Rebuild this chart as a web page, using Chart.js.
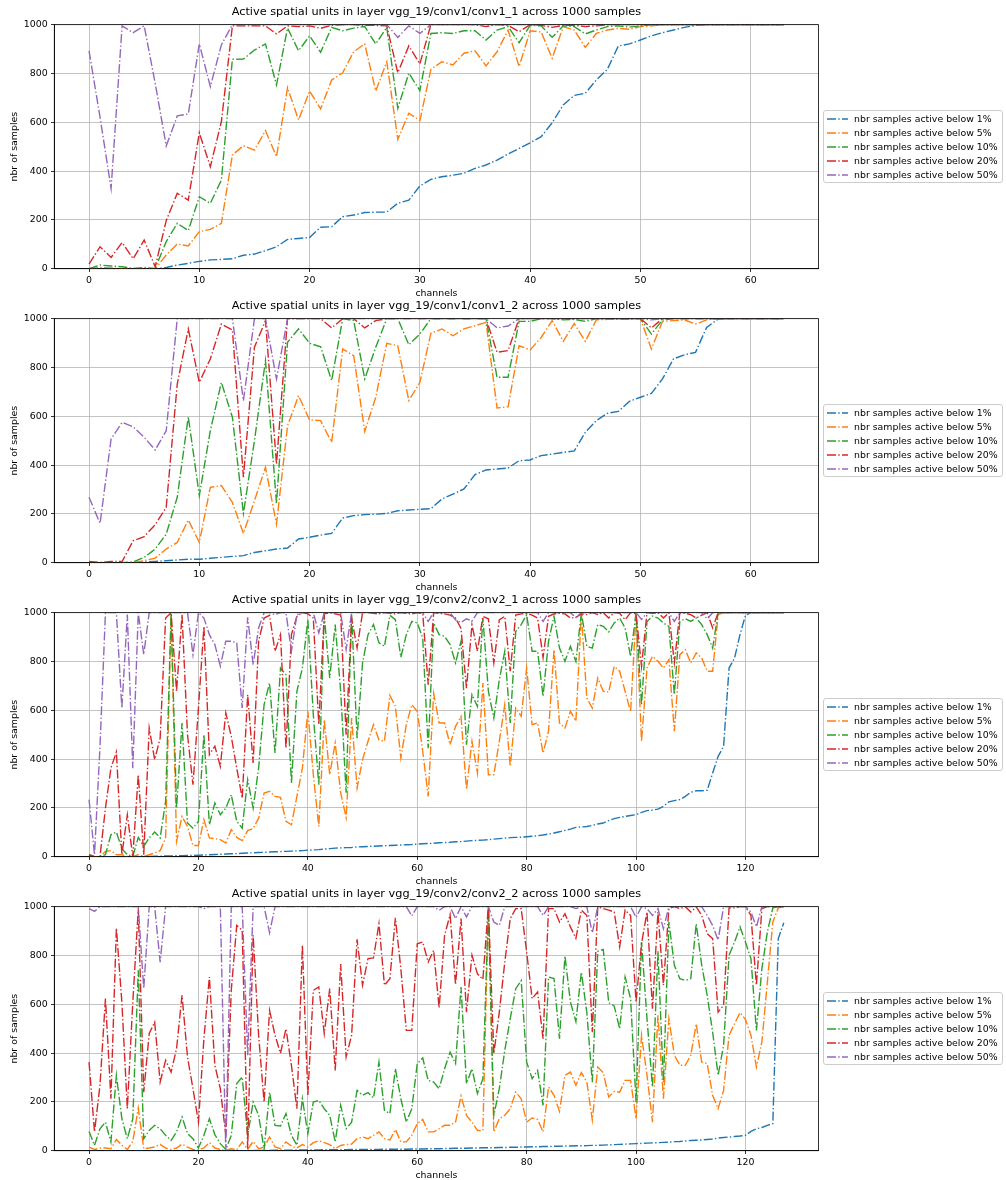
<!DOCTYPE html>
<html>
<head>
<meta charset="utf-8">
<script src="https://cdn.jsdelivr.net/npm/chart.js@4.4.0/dist/chart.umd.min.js"></script>
<style>
  body { margin: 0; background: #fff; width: 1006px; height: 1180px; overflow: hidden; position: relative; font-family: "DejaVu Sans", sans-serif; }
  canvas { position: absolute; left: 0; }
  .legend { position: absolute; left: 823px; width: 180px; height: 73px; box-sizing: border-box; border: 1px solid #cccccc; border-radius: 3px; background: rgba(255,255,255,0.8); font-size: 9.4px; color: #000; }
  .legend .row { position: absolute; left: 0; height: 14px; line-height: 14px; white-space: nowrap; }
  .legend svg { position: absolute; left: 3px; top: 4px; }
  .legend span { position: absolute; left: 30px; top: 0; }
</style>
</head>
<body>
<canvas id="chart1" width="1006" height="300" style="top:0px"></canvas>
<canvas id="chart2" width="1006" height="300" style="top:294px"></canvas>
<canvas id="chart3" width="1006" height="300" style="top:588px"></canvas>
<canvas id="chart4" width="1006" height="300" style="top:882px"></canvas>
<div id="legend1" class="legend" style="top:110px"></div>
<div id="legend2" class="legend" style="top:404px"></div>
<div id="legend3" class="legend" style="top:698px"></div>
<div id="legend4" class="legend" style="top:992px"></div>
<script>
const seriesNames = ['nbr samples active below 1%', 'nbr samples active below 5%', 'nbr samples active below 10%', 'nbr samples active below 20%', 'nbr samples active below 50%'];
const seriesColors = ['#1f77b4', '#ff7f0e', '#2ca02c', '#d62728', '#9467bd'];
const layers = ['vgg_19/conv1/conv1_1', 'vgg_19/conv1/conv1_2', 'vgg_19/conv2/conv2_1', 'vgg_19/conv2/conv2_2'];
const nbrSamples = 1000;

const channels64 = [...Array(64).keys()];
const channels128 = [...Array(128).keys()];
const xTicks64 = [0, 10, 20, 30, 40, 50, 60];
const xTicks128 = [0, 20, 40, 60, 80, 100, 120];
const yTicks = [0, 200, 400, 600, 800, 1000];

// conv1_1 (64 canais)
const conv1_1_below1 = [0,0,0,0,0,0,0,5,15,22,30,36,38,41,55,60,74,90,120,124,128,170,172,213,220,230,232,232,268,281,339,366,377,383,391,411,425,445,470,493,516,541,598,671,710,719,773,817,913,921,937,954,967,978,989,997,1000,1000,1000,1000,1000,1000,1000,1000];
const conv1_1_below5 = [0,5,3,0,0,0,0,56,101,93,152,161,186,466,504,486,566,459,742,609,728,655,773,803,889,921,728,848,530,637,607,817,848,835,883,893,831,889,978,828,975,970,862,992,978,907,964,978,985,981,992,995,1000,1000,1000,1000,1000,1000,1000,1000,1000,1000,1000,1000];
const conv1_1_below10 = [0,15,11,8,1,5,1,111,186,156,295,268,363,858,859,896,921,753,986,893,954,887,989,975,986,992,921,989,657,801,730,964,967,964,975,975,937,978,992,926,997,995,948,995,992,962,978,992,995,990,995,1000,1000,1000,1000,1000,1000,1000,1000,1000,1000,1000,1000,1000];
const conv1_1_below20 = [19,90,46,107,41,117,8,197,309,281,557,418,602,995,995,995,995,962,995,992,995,985,997,1000,1000,997,997,995,803,913,839,1000,1000,1000,1000,1000,992,1000,997,971,1000,997,989,997,997,992,995,1000,1000,1000,1000,1000,1000,1000,1000,1000,1000,1000,1000,1000,1000,1000,1000,1000];
const conv1_1_below50 = [893,620,329,995,967,995,760,503,626,634,921,746,917,1000,1000,1000,1000,1000,1000,1000,1000,1000,1000,1000,1000,1000,1000,1000,948,995,964,1000,1000,1000,1000,1000,1000,1000,1000,1000,1000,1000,1000,1000,1000,1000,1000,1000,1000,1000,1000,1000,1000,1000,1000,1000,1000,1000,1000,1000,1000,1000,1000,1000];

// conv1_2 (64 canais)
const conv1_2_below1 = [0,0,0,0,0,3,5,8,11,14,14,18,22,26,29,42,49,56,60,97,104,113,120,183,193,197,199,202,213,216,219,221,261,281,302,361,380,384,388,418,421,439,445,452,458,534,582,612,620,661,678,694,753,835,852,862,964,997,1000,1000,1000,1000,1000,1000];
const conv1_2_below5 = [0,0,0,0,0,8,19,56,83,175,83,309,316,247,120,254,391,158,561,684,585,582,493,876,848,538,678,899,889,664,739,940,958,930,958,971,985,634,639,889,872,923,992,907,980,907,995,997,997,997,1000,876,989,992,995,978,995,1000,1000,1000,1000,1000,1000,1000];
const conv1_2_below10 = [0,0,0,0,3,22,56,117,268,598,275,541,739,596,202,500,828,243,903,958,899,885,746,1000,992,753,883,1000,1000,893,937,1000,1000,1000,1000,1000,1000,760,760,989,989,1000,1000,995,997,989,1000,1000,1000,1000,1000,937,995,1000,1000,1000,1000,1000,1000,1000,1000,1000,1000,1000];
const conv1_2_below20 = [5,1,5,5,90,107,156,227,732,958,739,835,978,954,350,883,992,404,1000,1000,1000,1000,962,1000,1000,962,992,1000,1000,1000,1000,1000,1000,1000,1000,1000,1000,862,869,1000,1000,1000,1000,1000,1000,1000,1000,1000,1000,1000,1000,962,1000,1000,1000,1000,1000,1000,1000,1000,1000,1000,1000,1000];
const conv1_2_below50 = [268,161,507,575,557,514,462,541,1000,1000,1000,1000,1000,1000,664,1000,1000,753,1000,1000,1000,1000,1000,1000,1000,1000,1000,1000,1000,1000,1000,1000,1000,1000,1000,1000,1000,962,970,1000,1000,1000,1000,1000,1000,1000,1000,1000,1000,1000,1000,995,1000,1000,1000,1000,1000,1000,1000,1000,1000,1000,1000,1000];

// conv2_1 (128 canais)
const conv2_1_below1 = [
  0,0,0,0,0,0,0,0,0,0, 1,1,2,2,3,3,4,4,5,5, 6,7,8,9,10,11,12,13,14,15, 16,17,18,19,20,21,22,23,24,25,
  27,28,29,31,33,35,36,37,38,40, 41,42,43,44,45,46,47,48,49,50, 52,53,54,55,57,58,59,61,62,64, 66,67,68,70,72,74,76,78,79,80,
  82,84,86,89,93,97,102,108,113,120, 122,124,128,134,138,148,156,161,165,169, 172,182,189,191,195,206,225,230,234,247,
  264,270,270,272,343,411,452,773,814,910, 989,1000,1000,1000,1000,1000,1000,1000];
const conv2_1_below5 = [
  3,0,0,22,25,8,8,1,1,8, 1,8,15,25,77,995,63,165,124,46, 46,152,77,74,70,56,111,79,66,107, 115,158,261,268,247,243,145,131,247,363,
  596,336,124,561,336,466,261,161,568,281, 398,473,541,479,473,661,616,404,541,623, 596,432,247,669,548,548,459,534,575,275,
  473,343,712,336,336,473,623,370,609,575, 773,541,548,425,514,848,548,527,596,555, 995,650,609,732,678,675,780,760,678,593,
  992,473,773,821,801,773,808,514,828,848, 794,835,814,760,760,992,1000,1000,1000,1000, 1000,1000,1000,1000,1000,1000,1000,1000];
const conv2_1_below10 = [
  8,0,0,8,90,101,33,8,1,79, 42,77,101,77,227,995,199,548,138,117, 145,500,131,220,172,199,254,145,117,316, 199,363,623,712,425,773,746,302,678,773,
  971,582,295,990,732,951,678,262,992,486, 794,910,951,876,862,989,971,817,910,964, 958,896,445,958,910,903,869,794,883,459,
  664,616,978,678,568,725,842,548,923,951, 992,842,842,657,883,985,855,801,862,800, 1000,862,855,951,944,921,958,978,937,821,
  1000,623,964,986,978,958,944,664,964,975, 964,978,951,910,855,1000,1000,1000,1000,1000, 1000,1000,1000,1000,1000,1000,1000,1000];
const conv2_1_below20 = [
  8,0,0,199,363,429,8,172,0,336, 8,527,398,486,978,1000,678,992,500,295, 609,944,418,453,370,589,493,363,240,664, 384,883,978,989,842,910,445,910,985,1000,
  995,978,541,995,1000,995,990,500,978,855, 1000,1000,997,995,1000,997,995,1000,997,995, 1000,997,705,1000,997,995,990,978,935,691,
  950,842,985,975,794,970,985,760,990,995, 997,990,978,816,985,995,997,995,978,981, 995,992,1000,992,1000,978,1000,997,971,1000,
  995,780,1000,997,1000,978,1000,794,1000,997, 992,978,990,1000,937,1000,1000,1000,1000,1000, 1000,1000,1000,1000,1000,1000,1000,1000];
const conv2_1_below50 = [
  234,8,450,1000,1000,1000,609,992,363,1000, 828,1000,1000,1000,1000,1000,1000,1000,1000,828, 1000,978,910,869,781,883,883,876,609,981, 787,937,1000,1000,992,1000,1000,842,992,1000,
  1000,1000,917,1000,1000,1000,1000,849,1000,1000, 1000,1000,1000,1000,1000,1000,1000,1000,1000,1000, 1000,1000,964,1000,1000,1000,1000,970,960,975,
  965,1000,1000,1000,1000,1000,1000,1000,1000,1000, 1000,1000,1000,964,1000,1000,1000,1000,1000,980, 1000,1000,1000,1000,1000,1000,1000,1000,1000,1000,
  1000,972,1000,1000,1000,1000,1000,964,1000,1000, 1000,1000,1000,975,1000,1000,1000,1000,1000,1000, 1000,1000,1000,1000,1000,1000,1000,1000];

// conv2_2 (128 canais)
const conv2_2_below1 = [
  0,0,0,0,0,0,0,0,0,0, 0,0,0,0,0,0,0,0,0,0, 0,0,0,0,0,0,0,0,0,0, 1,1,1,1,2,2,2,2,3,3,
  3,3,3,4,4,4,4,4,5,5, 5,5,5,5,6,6,6,6,6,7, 7,7,8,8,8,9,9,10,10,10, 11,11,12,12,12,13,13,14,14,15,
  15,16,16,17,17,18,18,19,19,20, 20,21,22,22,23,24,25,26,27,28, 29,30,31,32,33,34,35,37,38,40,
  42,43,44,46,48,52,54,56,58,60, 63,79,90,95,104,111,869,934];
const conv2_2_below5 = [
  15,5,11,11,8,46,22,5,38,175, 8,11,15,26,11,5,11,27,15,5, 3,11,33,11,5,1,8,3,36,5, 38,8,15,56,15,8,36,19,11,25,
  15,33,41,33,25,8,22,25,27,49, 56,49,63,77,49,44,87,36,36,63, 111,128,77,77,90,104,104,117,224,145,
  117,83,83,1000,77,131,145,172,240,213, 117,134,128,77,261,227,161,309,322,268, 320,281,126,343,320,220,243,240,288,288,
  131,473,309,117,555,213,541,391,350,350, 391,520,363,357,227,172,247,473,520,566, 538,473,343,445,691,937,995,1000];
const conv2_2_below10 = [
  79,22,90,117,36,309,131,49,131,739, 49,83,104,90,63,42,77,138,70,49, 11,63,131,66,29,5,63,275,302,63, 199,145,5,240,104,101,152,63,22,213,
  70,199,206,172,145,36,186,90,117,247, 227,238,216,363,165,152,336,213,117,172, 357,380,288,281,254,336,404,357,671,275,
  336,234,295,992,145,254,411,541,664,697, 363,295,329,186,712,705,459,798,609,529, 732,566,281,817,825,607,593,500,712,623,
  199,855,541,261,817,281,937,760,705,698, 705,930,760,637,486,309,432,801,855,917, 855,787,493,746,896,995,1000,1000];
const conv2_2_below20 = [
  363,77,268,623,213,913,609,172,609,989, 240,480,527,281,370,322,418,637,384,254, 117,459,712,350,254,63,657,923,903,8, 883,473,199,575,473,399,500,350,172,842,
  227,657,671,480,664,329,765,384,473,866, 678,787,790,930,678,705,954,746,493,493, 848,855,773,821,585,883,967,680,951,568,
  801,725,702,1000,398,568,773,951,992,992, 814,623,650,459,992,992,937,971,917,870, 986,964,486,999,992,986,978,835,986,964,
  609,849,978,582,978,678,992,1000,992,1000, 978,999,964,889,869,568,596,995,995,1000, 1000,964,678,992,1000,1000,1000,1000];
const conv2_2_below50 = [
  992,981,1000,1000,1000,1000,1000,1000,1000,1000, 664,1000,1000,773,1000,1000,1000,1000,1000,1000, 1000,992,1000,1000,1000,0,1000,1000,1000,391, 1000,1000,1000,893,1000,1000,1000,1000,1000,1000,
  1000,1000,1000,1000,1000,1000,1000,1000,1000,1000, 1000,1000,1000,1000,1000,1000,1000,1000,1000,962, 1000,1000,1000,1000,985,1000,1000,951,1000,958,
  1000,1000,1000,1000,937,923,1000,1000,1000,1000, 1000,1000,1000,964,1000,1000,1000,1000,1000,992, 1000,1000,893,1000,1000,1000,1000,1000,1000,1000,
  956,1000,992,964,992,910,1000,1000,1000,1000, 1000,1000,1000,964,923,863,1000,1000,1000,1000, 1000,978,917,1000,1000,1000,1000,1000];

Chart.defaults.font.family = '"DejaVu Sans", sans-serif';
Chart.defaults.color = '#000';

const dashDot = [9, 2.3, 1.4, 2.3]; // estilo '-.'

// moldura preta em volta da área do gráfico
const framePlugin = {
  id: 'frame',
  afterDatasetsDraw(chart) {
    const { ctx, chartArea: a } = chart;
    ctx.save();
    ctx.strokeStyle = '#000';
    ctx.lineWidth = 0.8;
    ctx.strokeRect(a.left, a.top, a.right - a.left, a.bottom - a.top);
    ctx.restore();
  }
};

function buildChart(canvasId, layer, channels, xTicks, series) {
  const ctx = document.getElementById(canvasId).getContext('2d');
  const last = channels[channels.length - 1];
  const margin = last * 0.05; // margem de 5% nos dois lados

  return new Chart(ctx, {
    type: 'line',
    data: {
      datasets: series.map((values, i) => ({
        label: seriesNames[i],
        data: values.map((v, j) => ({ x: channels[j], y: v })),
        borderColor: seriesColors[i],
        backgroundColor: seriesColors[i],
        borderWidth: 1.4,
        borderDash: dashDot,
        borderCapStyle: 'butt',
        pointRadius: 0,
        fill: false,
        tension: 0,
        order: series.length - i // o último fica por cima
      }))
    },
    options: {
      responsive: false,
      animation: false,
      devicePixelRatio: 1,
      layout: { padding: { left: 0, right: 187.5, top: 0, bottom: 0 } },
      plugins: {
        legend: { display: false },
        tooltip: { enabled: false },
        title: {
          display: true,
          fullSize: false,
          text: 'Active spatial units in layer ' + layer + ' across ' + nbrSamples + ' samples',
          font: { size: 11.3, weight: 'normal' },
          color: '#000',
          padding: { top: 5, bottom: 6.1 }
        }
      },
      scales: {
        x: {
          type: 'linear',
          min: -margin,
          max: last + margin,
          afterFit: s => { s.height = 31.3; },
          afterBuildTicks: s => { s.ticks = xTicks.map(v => ({ value: v })); },
          ticks: { font: { size: 9.4 }, padding: 3.3, maxRotation: 0, autoSkip: false, callback: v => String(v) },
          grid: { color: '#b0b0b0', lineWidth: 0.75, tickColor: '#000', tickLength: 3.3, tickWidth: 0.8 },
          border: { color: '#000', width: 0.8 },
          title: { display: true, text: 'channels', font: { size: 9.4 }, padding: { top: 0, bottom: 0.9 } }
        },
        y: {
          type: 'linear',
          min: 0,
          max: nbrSamples,
          afterFit: s => { s.width = 54.3; },
          afterBuildTicks: s => { s.ticks = yTicks.map(v => ({ value: v })); },
          ticks: { font: { size: 9.4 }, padding: 3.3, autoSkip: false, callback: v => String(v) },
          grid: { color: '#b0b0b0', lineWidth: 0.75, tickColor: '#000', tickLength: 3.3, tickWidth: 0.8 },
          border: { color: '#000', width: 0.8 },
          title: { display: true, text: 'nbr of samples', font: { size: 9.4 }, padding: { top: 9.4, bottom: 0 } }
        }
      }
    },
    plugins: [framePlugin]
  });
}

function buildLegend(divId) {
  const div = document.getElementById(divId);
  seriesNames.forEach((name, i) => {
    const row = document.createElement('div');
    row.className = 'row';
    row.style.top = (1 + 14 * i) + 'px';
    row.innerHTML = '<svg width="21" height="6"><line x1="0" y1="3" x2="21" y2="3" stroke="' + seriesColors[i] +
      '" stroke-width="1.4" stroke-dasharray="' + dashDot.join(' ') + '"/></svg><span>' + name + '</span>';
    div.appendChild(row);
  });
}

buildChart('chart1', layers[0], channels64, xTicks64, [conv1_1_below1, conv1_1_below5, conv1_1_below10, conv1_1_below20, conv1_1_below50]);
buildChart('chart2', layers[1], channels64, xTicks64, [conv1_2_below1, conv1_2_below5, conv1_2_below10, conv1_2_below20, conv1_2_below50]);
buildChart('chart3', layers[2], channels128, xTicks128, [conv2_1_below1, conv2_1_below5, conv2_1_below10, conv2_1_below20, conv2_1_below50]);
buildChart('chart4', layers[3], channels128, xTicks128, [conv2_2_below1, conv2_2_below5, conv2_2_below10, conv2_2_below20, conv2_2_below50]);

['legend1', 'legend2', 'legend3', 'legend4'].forEach(buildLegend);
</script>
</body>
</html>
